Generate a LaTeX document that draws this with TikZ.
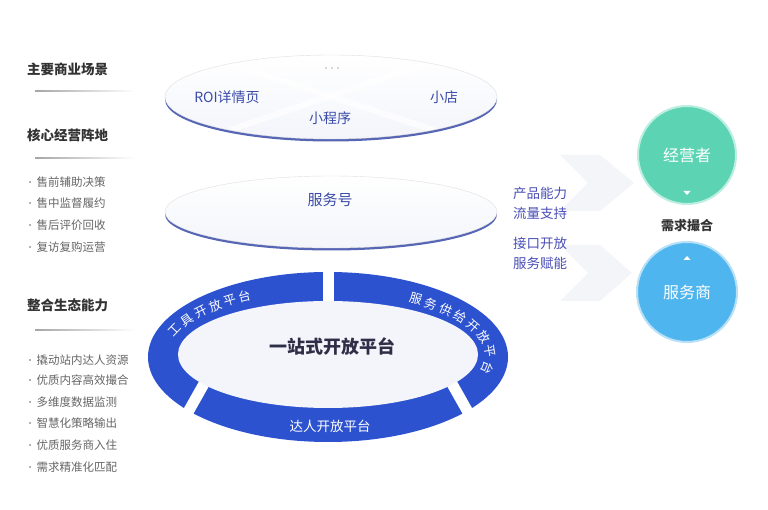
\documentclass[tikz,border=0pt]{standalone}
\usepackage{fontspec}
\setmainfont{Noto Sans CJK SC}
\usetikzlibrary{calc}
\definecolor{ringblue}{HTML}{2D52D0}
\definecolor{txtblue}{HTML}{3B4BA8}
\definecolor{tealc}{HTML}{5CD4B4}
\definecolor{skyc}{HTML}{4EB5EE}
\definecolor{rimc}{HTML}{5666B5}
\definecolor{innerc}{HTML}{F3F5FB}
\definecolor{headc}{HTML}{333333}
\definecolor{itemc}{HTML}{666666}
\definecolor{purpc}{HTML}{4A4FB5}
\definecolor{palec}{HTML}{F4F5F9}
\begin{document}
\begin{tikzpicture}[x=1pt,y=1pt,
  head/.style={anchor=west,font=\fontsize{13.5}{16}\selectfont\bfseries,text=headc,inner sep=0},
  item/.style={anchor=west,font=\fontsize{11.5}{14}\selectfont,text=itemc,inner sep=0},
  eltext/.style={font=\fontsize{14}{16}\selectfont,text=txtblue,inner sep=0},
  ringtext/.style={font=\fontsize{12.5}{14}\selectfont,text=white,inner sep=0},
  sidetext/.style={anchor=west,font=\fontsize{13.5}{16}\selectfont,text=purpc,inner sep=0},
  circtext/.style={font=\fontsize{16}{18}\selectfont,text=white,inner sep=0},
  uline/.style={left color=gray!70,right color=white}]
\useasboundingbox (0,0) rectangle (768,510);
\fill[white] (0,0) rectangle (768,510);

% ---- left column ----
\node[head] (h1) at (27,441) {主要商业场景};
\shade[uline] (35,418.3) rectangle (135,419.8);
\node[head] (h2) at (27,375) {核心经营阵地};
\shade[uline] (35,351.3) rectangle (135,352.8);
\foreach \txt/\yy [count=\i] in {售前辅助决策/328,售中监督履约/307,售后评价回收/285,复访复购运营/263}{
  \fill[itemc] (30,\yy) circle (0.9);
  \node[item] (a\i) at (36.5,\yy) {\txt};
}
\node[head] (h3) at (27,205) {整合生态能力};
\shade[uline] (35,179.3) rectangle (135,180.8);
\foreach \txt/\yy [count=\i] in {撬动站内达人资源/150,优质内容高效撮合/130,多维度数据监测/108,智慧化策略输出/87,优质服务商入住/65,需求精准化匹配/43}{
  \fill[itemc] (30,\yy) circle (0.9);
  \node[item] (b\i) at (36.5,\yy) {\txt};
}

% ---- faint arrows ----
\fill[palec] (560,355) -- (600,355) -- (634,327) -- (600,299) -- (560,299) -- (588,327) -- cycle;
\fill[palec] (560,265) -- (600,265) -- (632,237) -- (600,209) -- (560,209) -- (588,237) -- cycle;

% ---- top ellipse ----
\fill[rimc] (331,410.5) ellipse [x radius=166, y radius=42];
\shade[top color=white,bottom color=innerc,draw=gray!25] (331,413) ellipse [x radius=166, y radius=42];
\begin{scope}
  \clip (331,413) ellipse [x radius=165, y radius=41];
  \draw[white,line width=6pt,opacity=0.7] (225,448) -- (440,378);
  \draw[white,line width=6pt,opacity=0.7] (230,380) -- (430,448);
\end{scope}
\foreach \xx [count=\i] in {326,332,338}{
  \fill[gray!60] (\xx,442) circle (0.9);
}
\node[eltext] (roi) at (227,413) {ROI详情页};
\node[eltext] (xd) at (444,413) {小店};
\node[eltext] (xcx) at (330,392) {小程序};

% ---- second ellipse ----
\fill[rimc] (331,295.5) ellipse [x radius=166, y radius=36];
\shade[top color=white,bottom color=innerc,draw=gray!25] (331,298) ellipse [x radius=166, y radius=36];
\node[eltext,font=\fontsize{15}{17}\selectfont] (fwh) at (330,310) {服务号};

% ---- ring ----
\fill[ringblue] (328,153) ellipse [x radius=180, y radius=85];
\foreach \t/\n in {90/90,217/240.6,323/299.4}{
  \draw[white,line width=11pt]
    ({328+165*cos(\t)+32*cos(\n)},{154+69*sin(\t)+32*sin(\n)}) --
    ({328+165*cos(\t)-32*cos(\n)},{154+69*sin(\t)-32*sin(\n)});
}
\fill[innerc] (328,155.5) ellipse [x radius=150, y radius=53.5];
\foreach \ch/\t [count=\i] in {工/158,具/148.8,开/140.2,放/133,平/126.5,台/120.5}{
  \node[ringtext,rotate={atan2(-69*cos(\t),165*sin(\t))}] (tk\i) at ({328+165*cos(\t)},{154+69*sin(\t)}) {\ch};
}
\foreach \ch/\t [count=\i] in {服/57,务/50.2,供/43,给/35,开/26.2,放/16,平/4,台/-10}{
  \node[ringtext,rotate={atan2(-69*cos(\t),165*sin(\t))}] (fk\i) at ({327+163*cos(\t)},{154+68*sin(\t)}) {\ch};
}
\node[ringtext,font=\fontsize{13.5}{15}\selectfont] (dr) at (330,84) {达人开放平台};
\node[font=\fontsize{18}{20}\selectfont\bfseries,text=headc!90!blue,inner sep=0] (yz) at (332,164) {一站式开放平台};

% ---- right side ----
\node[sidetext] (s1) at (513,317) {产品能力};
\node[sidetext] (s2) at (513,297) {流量支持};
\node[sidetext] (s3) at (513,267) {接口开放};
\node[sidetext] (s4) at (513,247) {服务赋能};

\node[circle,minimum size=98pt,fill=tealc,draw=tealc!40,line width=2pt,circtext] (jy) at (687,355) {经营者};
\node[circle,minimum size=100pt,fill=skyc,draw=skyc!40,line width=2pt,circtext] (fws) at (687,218) {服务商};
\fill[white] (683.5,319) -- (690.5,319) -- (687,315) -- cycle;
\fill[white] (683.5,250) -- (690.5,250) -- (687,254) -- cycle;
\node[font=\fontsize{13}{15}\selectfont\bfseries,text=headc,inner sep=0] (xq) at (687,284) {需求撮合};
\end{tikzpicture}
\end{document}
